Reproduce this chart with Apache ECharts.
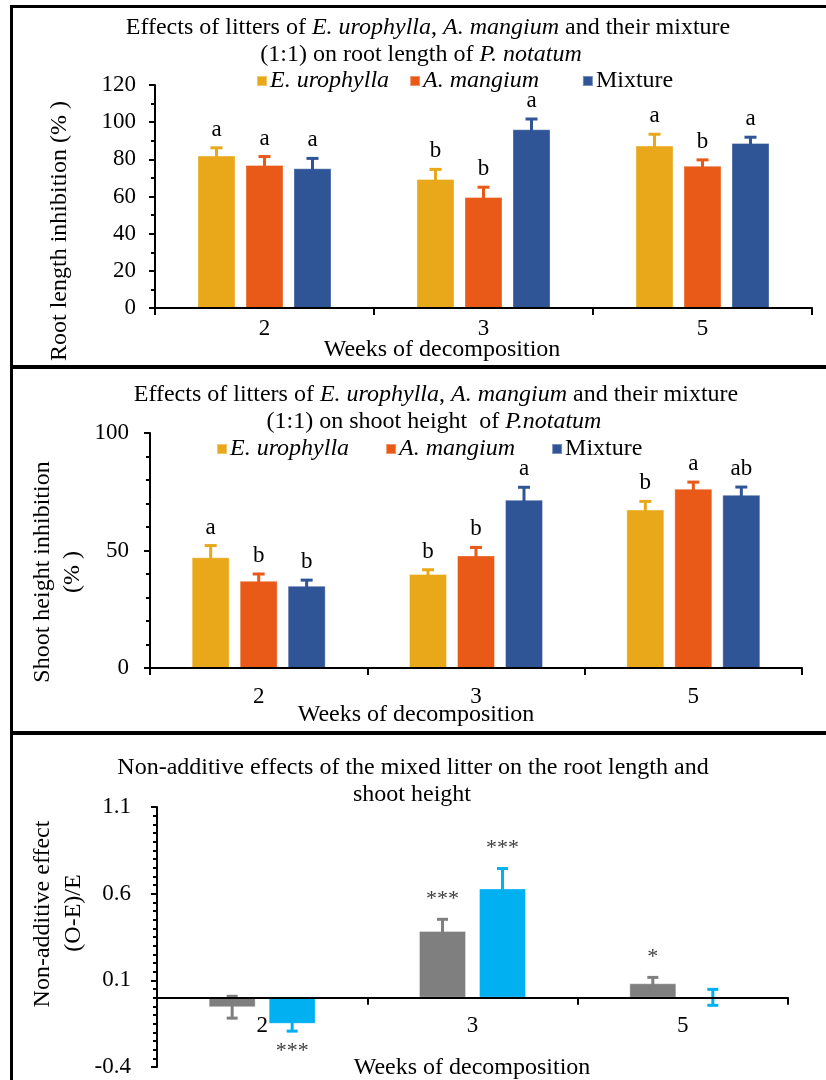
<!DOCTYPE html>
<html>
<head>
<meta charset="utf-8">
<title>Litter effects on P. notatum</title>
<script src="https://cdn.jsdelivr.net/npm/echarts@6/dist/echarts.min.js"></script>
<style>
  html, body { margin: 0; padding: 0; background: #fff; }
  #chart { width: 826px; height: 1080px; }
</style>
</head>
<body>
<div id="chart"></div>
<script>
// ---- data ----
const weeks = ['2', '3', '5'];
const species = ['E. urophylla', 'A. mangium', 'Mixture'];

// Root length inhibition (%), mean and SE per week
const rootEuro = [82.0, 69.4, 87.4];
const rootEuroErr = [4.2, 5.2, 6.1];
const rootEuroSig = ['a', 'b', 'a'];
const rootAman = [77.0, 59.7, 76.6];
const rootAmanErr = [4.5, 5.3, 3.1];
const rootAmanSig = ['a', 'b', 'b'];
const rootMix = [75.2, 96.2, 88.8];
const rootMixErr = [5.3, 5.5, 3.1];
const rootMixSig = ['a', 'a', 'a'];

// Shoot height inhibition (%)
const shootEuro = [47.1, 40.0, 67.4];
const shootEuroErr = [5.0, 1.8, 3.5];
const shootEuroSig = ['a', 'b', 'b'];
const shootAman = [37.1, 47.9, 76.3];
const shootAmanErr = [2.9, 3.4, 2.8];
const shootAmanSig = ['b', 'b', 'a'];
const shootMix = [35.0, 71.6, 73.7];
const shootMixErr = [2.4, 5.3, 3.3];
const shootMixSig = ['b', 'a', 'ab'];

// Non-additive effect (O-E)/E of the mixed litter
const naeRoot = [-0.055, 0.385, 0.083];
const naeRootErr = [0.063, 0.067, 0.034];
const naeRootSig = ['', '***', '*'];
const naeShoot = [-0.151, 0.630, 0.002];
const naeShootErr = [0.042, 0.115, 0.046];
const naeShootSig = ['***', '***', ''];

// Axis ticks
const rootTicks = { min: 0, max: 120, step: 20 };
const shootTicks = { min: 0, max: 100, step: 50 };
const naeTicks = { min: -0.4, max: 1.1, step: 0.5 };

// ---- styling ----
const FONT = '"Liberation Serif", "Times New Roman", Times, serif';
const C_EURO = '#E9A81A';
const C_AMAN = '#E95A18';
const C_MIX = '#2F5597';
const C_ROOT = '#7F7F7F';
const C_SHOOT = '#00B0F0';

const chart = echarts.init(document.getElementById('chart'), null, { renderer: 'canvas' });

function valueAxis(gridIndex, t, minorSplit, labelMargin) {
  return {
    type: 'value', gridIndex: gridIndex,
    min: t.min, max: t.max, interval: t.step,
    axisLine: { show: true, lineStyle: { color: '#000', width: 2 } },
    axisTick: { show: true, length: 6, lineStyle: { color: '#000', width: 2 } },
    minorTick: { show: true, splitNumber: minorSplit, length: 4, lineStyle: { color: '#000', width: 2 } },
    splitLine: { show: false },
    minorSplitLine: { show: false },
    axisLabel: { color: '#000', fontFamily: FONT, fontSize: 23, margin: labelMargin }
  };
}

function categoryAxis(gridIndex, labelMargin) {
  return {
    type: 'category', gridIndex: gridIndex, data: weeks, z: 4,
    axisLine: { show: true, onZero: false, lineStyle: { color: '#000', width: 2 } },
    axisTick: { show: true, length: 7, lineStyle: { color: '#000', width: 2 } },
    axisLabel: { color: '#000', fontFamily: FONT, fontSize: 23, margin: labelMargin }
  };
}

function barSeries(name, gridIndex, values, color, barWidth, barGap) {
  return {
    type: 'bar', name: name, xAxisIndex: gridIndex, yAxisIndex: gridIndex,
    data: values, barWidth: barWidth, barGap: barGap,
    itemStyle: { color: color, borderColor: 'rgba(255,255,255,0.35)', borderWidth: 1 },
    emphasis: { disabled: true },
    z: 2
  };
}

// Error bars (mean ± SE) with the significance mark beyond the outer end
function errorSeries(gridIndex, values, errs, sigs, color, offset, opts) {
  return {
    type: 'custom', name: 'se-' + gridIndex + '-' + offset,
    xAxisIndex: gridIndex, yAxisIndex: gridIndex,
    data: values.map(function (v, i) { return [i, v, errs[i]]; }),
    z: 3,
    silent: true,
    renderItem: function (params, api) {
      const i = api.value(0), v = api.value(1), e = api.value(2);
      const x = api.coord([i, v])[0] + offset;
      const yHi = api.coord([i, v + e])[1];
      const yLo = api.coord([i, v - e])[1];
      const cap = opts.cap / 2;
      const ls = { stroke: color, lineWidth: 3 };
      const children = [
        { type: 'line', shape: { x1: x, y1: yHi, x2: x, y2: yLo }, style: ls },
        { type: 'line', shape: { x1: x - cap, y1: yHi, x2: x + cap, y2: yHi }, style: ls },
        { type: 'line', shape: { x1: x - cap, y1: yLo, x2: x + cap, y2: yLo }, style: ls }
      ];
      const sig = sigs[params.dataIndex];
      if (sig) {
        const below = v < 0;
        children.push({
          type: 'text', x: x, y: below ? yLo + opts.gap : yHi - opts.gap,
          style: {
            text: sig, align: 'center', verticalAlign: 'middle',
            fontFamily: FONT, fontSize: opts.fontSize, fill: opts.color
          }
        });
      }
      return { type: 'group', children: children };
    }
  };
}

function textItem(x, y, text, extra) {
  const style = Object.assign({
    text: text, fontFamily: FONT, fontSize: 24, fill: '#000',
    align: 'center', verticalAlign: 'middle',
    rich: { i: { fontFamily: FONT, fontSize: 24, fontStyle: 'italic', fill: '#000' } }
  }, (extra && extra.style) || {});
  return Object.assign({ type: 'text', x: x, y: y, style: style, silent: true }, extra ? { rotation: extra.rotation || 0 } : {});
}

// legend with species names in italics; pad adds spacing after a given entry
function legendFor(top, left, gap, pad) {
  return {
    data: species, top: top, left: left, itemGap: gap,
    icon: 'rect', itemWidth: 10, itemHeight: 10,
    selectedMode: false,
    formatter: function (n) {
      const tail = pad[n] || '';
      return (n === 'Mixture' ? n : '{i|' + n + tail + '}');
    },
    textStyle: {
      color: '#000', fontFamily: FONT, fontSize: 24, padding: [0, 0, 0, -2],
      rich: { i: { fontFamily: FONT, fontSize: 24, fontStyle: 'italic', color: '#000' } }
    }
  };
}

// bar geometry per panel
const BW3 = 38, GAP3 = 10;       // three bars per week
const BW2 = 47, GAP2 = 13;       // two bars per week
const gap3 = (GAP3 / BW3 * 100) + '%';
const gap2 = (GAP2 / BW2 * 100) + '%';
const step3 = BW3 + GAP3, step2 = BW2 + GAP2;

const letterOpts = { cap: 12, gap: 18, fontSize: 23, color: '#000' };
const starOpts = { cap: 11, gap: 20, fontSize: 22, color: '#404040' };
const VERT = Math.PI / 2;
const NB = '\u00a0';

const option = {
  backgroundColor: '#fff',
  animation: false,
  grid: [
    { left: 155, top: 85, width: 657, height: 223, outerBoundsMode: 'none' },
    { left: 150, top: 433, width: 652, height: 235, outerBoundsMode: 'none' },
    { left: 157, top: 807, width: 631, height: 260, outerBoundsMode: 'none' }
  ],
  legend: [
    legendFor(64, 251, 20, { 'A. mangium': NB + NB + NB + '\u2009' }),
    legendFor(432, 211, 24, { 'E. urophylla': NB + NB, 'A. mangium': NB + NB })
  ],
  xAxis: [categoryAxis(0, 9), categoryAxis(1, 17), categoryAxis(2, 17)],
  yAxis: [
    valueAxis(0, rootTicks, 2, 19),
    valueAxis(1, shootTicks, 5, 21),
    valueAxis(2, naeTicks, 10, 26)
  ],
  series: [
    barSeries(species[0], 0, rootEuro, C_EURO, BW3, gap3),
    barSeries(species[1], 0, rootAman, C_AMAN, BW3, gap3),
    barSeries(species[2], 0, rootMix, C_MIX, BW3, gap3),
    errorSeries(0, rootEuro, rootEuroErr, rootEuroSig, C_EURO, -step3, letterOpts),
    errorSeries(0, rootAman, rootAmanErr, rootAmanSig, C_AMAN, 0, letterOpts),
    errorSeries(0, rootMix, rootMixErr, rootMixSig, C_MIX, step3, letterOpts),

    barSeries(species[0], 1, shootEuro, C_EURO, BW3, gap3),
    barSeries(species[1], 1, shootAman, C_AMAN, BW3, gap3),
    barSeries(species[2], 1, shootMix, C_MIX, BW3, gap3),
    errorSeries(1, shootEuro, shootEuroErr, shootEuroSig, C_EURO, -step3, letterOpts),
    errorSeries(1, shootAman, shootAmanErr, shootAmanSig, C_AMAN, 0, letterOpts),
    errorSeries(1, shootMix, shootMixErr, shootMixSig, C_MIX, step3, letterOpts),

    barSeries('Root length', 2, naeRoot, C_ROOT, BW2, gap2),
    barSeries('Shoot height', 2, naeShoot, C_SHOOT, BW2, gap2),
    errorSeries(2, naeRoot, naeRootErr, naeRootSig, C_ROOT, -step2 / 2, starOpts),
    errorSeries(2, naeShoot, naeShootErr, naeShootSig, C_SHOOT, step2 / 2, starOpts)
  ],
  graphic: [
    // panel frames
    { type: 'line', shape: { x1: 11.5, y1: 5, x2: 11.5, y2: 1080 }, style: { stroke: '#000', lineWidth: 3 }, silent: true },
    { type: 'line', shape: { x1: 10, y1: 6.5, x2: 826, y2: 6.5 }, style: { stroke: '#000', lineWidth: 3 }, silent: true },
    { type: 'line', shape: { x1: 10, y1: 367, x2: 826, y2: 367 }, style: { stroke: '#000', lineWidth: 4 }, silent: true },
    { type: 'line', shape: { x1: 10, y1: 733, x2: 826, y2: 733 }, style: { stroke: '#000', lineWidth: 4 }, silent: true },

    // panel 1 text
    textItem(428, 28, 'Effects of litters of {i|E. urophylla}, {i|A. mangium} and their mixture'),
    textItem(421, 55, '(1:1) on root length of {i|P. notatum}'),
    textItem(60, 231, 'Root length inhibition (% )', { rotation: VERT }),
    textItem(442, 350, 'Weeks of decomposition'),

    // panel 2 text
    textItem(436, 395, 'Effects of litters of {i|E. urophylla}, {i|A. mangium} and their mixture'),
    textItem(434, 422, '(1:1) on shoot height  of {i|P.notatum}'),
    textItem(43, 572, 'Shoot height inhibition', { rotation: VERT }),
    textItem(73, 572, '(% )', { rotation: VERT }),
    textItem(416, 715, 'Weeks of decomposition'),

    // panel 3 text
    textItem(413, 768, 'Non-additive effects of the mixed litter on the root length and'),
    textItem(412, 795, 'shoot height'),
    textItem(43, 914, 'Non-additive effect', { rotation: VERT }),
    textItem(74, 913, '(O-E)/E', { rotation: VERT }),
    textItem(472, 1068, 'Weeks of decomposition')
  ]
};

chart.setOption(option);

// The week axis of the non-additive panel crosses the value axis at zero:
// shift it (line, ticks and labels together) from the grid bottom up to y = 0.
const zeroY = chart.convertToPixel({ yAxisIndex: 2 }, 0);
const baseY = chart.convertToPixel({ yAxisIndex: 2 }, naeTicks.min);
chart.setOption({
  xAxis: [{}, {}, { offset: zeroY - baseY }]
});
</script>
</body>
</html>
